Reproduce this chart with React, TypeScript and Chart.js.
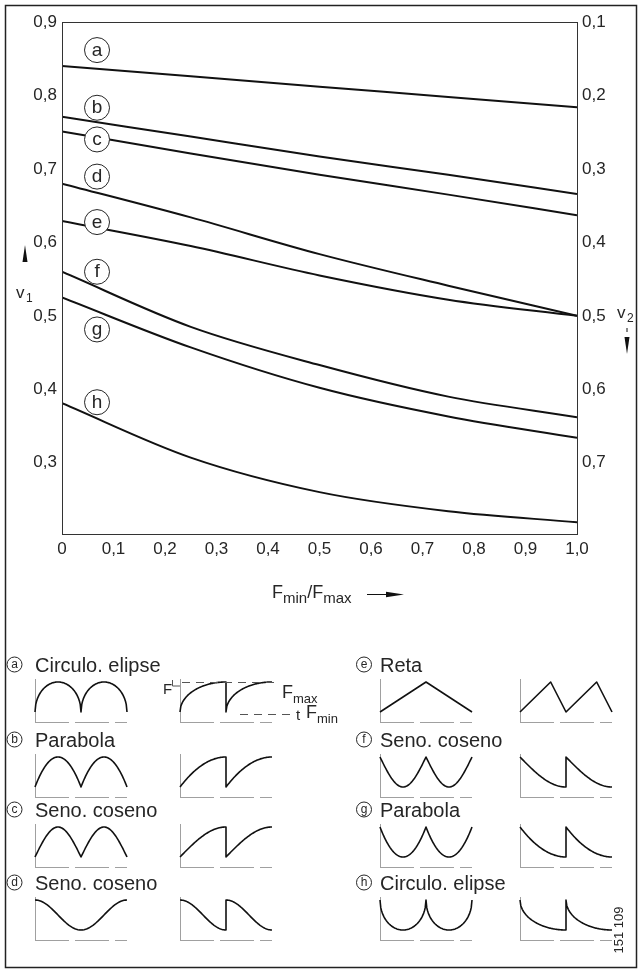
import React, { useEffect, useRef } from 'react';
import { Chart, registerables } from 'chart.js';

Chart.register(...registerables);

// ---------- data ----------
const X_VALUES = [0, 0.25, 0.5, 0.75, 1.0];
const CURVE_LETTERS = ['a', 'b', 'c', 'd', 'e', 'f', 'g', 'h'];
const V1_A = [0.840, 0.826, 0.812, 0.798, 0.784];
const V1_B = [0.771, 0.744, 0.717, 0.692, 0.666];
const V1_C = [0.751, 0.721, 0.692, 0.665, 0.637];
const V1_D = [0.680, 0.634, 0.584, 0.541, 0.500];
const V1_E = [0.629, 0.595, 0.555, 0.522, 0.500];
const V1_F = [0.560, 0.485, 0.433, 0.390, 0.362];
const V1_G = [0.525, 0.457, 0.402, 0.363, 0.334];
const V1_H = [0.381, 0.307, 0.260, 0.234, 0.219];
const SERIES = [V1_A, V1_B, V1_C, V1_D, V1_E, V1_F, V1_G, V1_H];

const X_TICKS = [0, 0.1, 0.2, 0.3, 0.4, 0.5, 0.6, 0.7, 0.8, 0.9, 1.0];
const V1_TICKS = [0.3, 0.4, 0.5, 0.6, 0.7, 0.8, 0.9];
const V2_TICKS = [0.1, 0.2, 0.3, 0.4, 0.5, 0.6, 0.7];
const V1_MIN = 0.203;
const V1_MAX = 0.9;

const LEGEND_LEFT_LETTERS = ['a', 'b', 'c', 'd'];
const LEGEND_LEFT_TEXT = ['Circulo. elipse', 'Parabola', 'Seno. coseno', 'Seno. coseno'];
const LEGEND_RIGHT_LETTERS = ['e', 'f', 'g', 'h'];
const LEGEND_RIGHT_TEXT = ['Reta', 'Seno. coseno', 'Parabola', 'Circulo. elipse'];
const FIGURE_NUMBER = '151 109';

// ---------- styling / layout ----------
const FONT = "'Liberation Sans', Arial, sans-serif";
const INK = '#262626';
const LABEL_DY = [-16, -9, 8, -7, 1, 0, 32, -1];
const ROW_BASELINES = [672, 747, 817, 890];

const fmt = (v: number) => (v === 0 ? '0' : v.toFixed(1).replace('.', ','));

type Shape = (t: number) => number;
const SHAPES: Record<string, { f: Shape; periods: number }> = {
  a1: { f: (t) => Math.sqrt(Math.max(0, 1 - (2 * t - 1) ** 2)), periods: 2 },
  a2: { f: (t) => Math.sqrt(Math.max(0, 1 - (1 - t) ** 2)), periods: 2 },
  b1: { f: (t) => 1 - (2 * t - 1) ** 2, periods: 2 },
  b2: { f: (t) => 1 - (1 - t) ** 2, periods: 2 },
  c1: { f: (t) => Math.sin(Math.PI * t), periods: 2 },
  c2: { f: (t) => Math.sin((Math.PI * t) / 2), periods: 2 },
  d1: { f: (t) => (1 + Math.cos(2 * Math.PI * t)) / 2, periods: 1 },
  d2: { f: (t) => (1 + Math.cos(Math.PI * t)) / 2, periods: 2 },
  e1: { f: (t) => 1 - Math.abs(2 * t - 1), periods: 1 },
  e2: { f: (t) => (t < 2 / 3 ? t * 1.5 : (1 - t) * 3), periods: 2 },
  f1: { f: (t) => 1 - Math.sin(Math.PI * t), periods: 2 },
  f2: { f: (t) => 1 - Math.sin((Math.PI * t) / 2), periods: 2 },
  g1: { f: (t) => (2 * t - 1) ** 2, periods: 2 },
  g2: { f: (t) => (1 - t) ** 2, periods: 2 },
  h1: { f: (t) => 1 - Math.sqrt(Math.max(0, 1 - (2 * t - 1) ** 2)), periods: 2 },
  h2: { f: (t) => 1 - Math.sqrt(Math.max(0, 1 - (1 - t) ** 2)), periods: 2 },
};

function drawIcon(ctx: CanvasRenderingContext2D, key: string, x0: number, top: number, w: number, h: number) {
  const { f, periods } = SHAPES[key];
  const bottom = top + h;
  ctx.save();
  ctx.strokeStyle = '#a0a0a0';
  ctx.lineWidth = 1;
  ctx.beginPath();
  ctx.moveTo(x0 + 0.5, top - 3);
  ctx.lineTo(x0 + 0.5, bottom + 10);
  ctx.stroke();
  ctx.setLineDash([34, 6]);
  ctx.beginPath();
  ctx.moveTo(x0, bottom + 10.5);
  ctx.lineTo(x0 + w, bottom + 10.5);
  ctx.stroke();
  ctx.restore();

  ctx.save();
  ctx.strokeStyle = '#111';
  ctx.lineWidth = 1.6;
  ctx.lineJoin = 'round';
  ctx.beginPath();
  const n = 60;
  const pw = w / periods;
  for (let p = 0; p < periods; p++) {
    for (let k = 0; k <= n; k++) {
      const t = k / n;
      const x = x0 + p * pw + t * pw;
      const y = bottom - h * f(t);
      if (p === 0 && k === 0) ctx.moveTo(x, y);
      else ctx.lineTo(x, y);
    }
  }
  ctx.stroke();
  ctx.restore();
}

function circled(ctx: CanvasRenderingContext2D, letter: string, cx: number, cy: number, r: number, size: number) {
  ctx.save();
  ctx.beginPath();
  ctx.arc(cx, cy, r, 0, Math.PI * 2);
  ctx.fillStyle = '#fff';
  ctx.fill();
  ctx.lineWidth = 1;
  ctx.strokeStyle = INK;
  ctx.stroke();
  ctx.fillStyle = INK;
  ctx.font = `${size}px ${FONT}`;
  ctx.textAlign = 'center';
  ctx.textBaseline = 'middle';
  ctx.fillText(letter, cx, cy + 0.5);
  ctx.restore();
}

function text(ctx: CanvasRenderingContext2D, s: string, x: number, y: number, size: number, align: CanvasTextAlign = 'left') {
  ctx.font = `${size}px ${FONT}`;
  ctx.fillStyle = INK;
  ctx.textAlign = align;
  ctx.textBaseline = 'alphabetic';
  ctx.fillText(s, x, y);
  return ctx.measureText(s).width;
}

const decorPlugin = {
  id: 'decor',
  beforeDraw(chart: any) {
    const ctx = chart.ctx as CanvasRenderingContext2D;
    ctx.save();
    ctx.fillStyle = '#fff';
    ctx.fillRect(0, 0, chart.width, chart.height);
    ctx.restore();
  },
  afterDatasetsDraw(chart: any) {
    const ctx = chart.ctx as CanvasRenderingContext2D;
    const { left, right, top, bottom } = chart.chartArea;
    const xs = chart.scales.x;
    ctx.save();
    ctx.strokeStyle = '#333';
    ctx.lineWidth = 1;
    ctx.strokeRect(Math.round(left) + 0.5, Math.round(top) + 0.5, Math.round(right - left), Math.round(bottom - top));
    ctx.restore();

    const lx = xs.getPixelForValue(0.068);
    CURVE_LETTERS.forEach((L, i) => {
      const meta = chart.getDatasetMeta(i);
      const y0 = meta.data[0].y;
      circled(ctx, L, lx, y0 + LABEL_DY[i], 12.5, 19);
    });
  },
  afterDraw(chart: any) {
    const ctx = chart.ctx as CanvasRenderingContext2D;
    ctx.save();
    ctx.strokeStyle = '#222';
    ctx.lineWidth = 1.5;
    ctx.strokeRect(5.5, 5.5, 631, 962);

    // v1 label + arrow
    ctx.fillStyle = '#111';
    ctx.beginPath();
    ctx.moveTo(25, 245);
    ctx.lineTo(27.5, 262);
    ctx.lineTo(22.5, 262);
    ctx.closePath();
    ctx.fill();
    text(ctx, 'v', 16, 298, 17);
    text(ctx, '1', 26, 302, 12);

    // v2 label + arrow
    text(ctx, 'v', 617, 318, 17);
    text(ctx, '2', 627, 322, 12);
    ctx.fillStyle = '#111';
    ctx.fillRect(626.5, 328, 1, 4);
    ctx.beginPath();
    ctx.moveTo(627, 354);
    ctx.lineTo(629.5, 337);
    ctx.lineTo(624.5, 337);
    ctx.closePath();
    ctx.fill();

    // x axis title
    let x = 272;
    x += text(ctx, 'F', x, 598, 18);
    x += text(ctx, 'min', x, 603, 15);
    x += text(ctx, '/', x, 598, 18);
    x += text(ctx, 'F', x, 598, 18);
    x += text(ctx, 'max', x, 603, 15);
    ctx.strokeStyle = '#111';
    ctx.lineWidth = 1;
    ctx.beginPath();
    ctx.moveTo(367, 594.5);
    ctx.lineTo(392, 594.5);
    ctx.stroke();
    ctx.fillStyle = '#111';
    ctx.beginPath();
    ctx.moveTo(404, 594.5);
    ctx.lineTo(386, 591.8);
    ctx.lineTo(386, 597.2);
    ctx.closePath();
    ctx.fill();

    // legend
    const lefts = [
      { circle: 14.5, txt: 35, icon1: 35, icon2: 180 },
      { circle: 364, txt: 380, icon1: 380, icon2: 520 },
    ];
    const cols = [
      { letters: LEGEND_LEFT_LETTERS, texts: LEGEND_LEFT_TEXT },
      { letters: LEGEND_RIGHT_LETTERS, texts: LEGEND_RIGHT_TEXT },
    ];
    cols.forEach((col, ci) => {
      const g = lefts[ci];
      col.letters.forEach((L, ri) => {
        const base = ROW_BASELINES[ri];
        circled(ctx, L, g.circle, base - 7.5, 7.5, 12);
        text(ctx, col.texts[ri], g.txt, base, 20);
        const top = base + 10;
        drawIcon(ctx, L + '1', g.icon1, top, 92, 30);
        drawIcon(ctx, L + '2', g.icon2, top, 92, 30);
      });
    });

    // annotations for the first F(t) sketch
    text(ctx, 'F', 163, 694, 15);
    ctx.strokeStyle = '#555';
    ctx.lineWidth = 1;
    ctx.beginPath();
    ctx.moveTo(172.5, 680);
    ctx.lineTo(172.5, 686);
    ctx.lineTo(180, 686);
    ctx.stroke();
    ctx.setLineDash([8, 6]);
    ctx.beginPath();
    ctx.moveTo(182, 682.5);
    ctx.lineTo(275, 682.5);
    ctx.stroke();
    ctx.beginPath();
    ctx.moveTo(240, 714.5);
    ctx.lineTo(290, 714.5);
    ctx.stroke();
    ctx.setLineDash([]);
    let ax = 282;
    ax += text(ctx, 'F', ax, 698, 18);
    text(ctx, 'max', ax, 703, 13);
    text(ctx, 't', 296, 720, 15);
    ax = 306;
    ax += text(ctx, 'F', ax, 718, 18);
    text(ctx, 'min', ax, 723, 13);

    // figure number (rotated)
    ctx.save();
    ctx.translate(619, 930);
    ctx.rotate(-Math.PI / 2);
    ctx.font = `13px ${FONT}`;
    ctx.fillStyle = INK;
    ctx.textAlign = 'center';
    ctx.textBaseline = 'middle';
    ctx.fillText(FIGURE_NUMBER, 0, 0);
    ctx.restore();

    ctx.restore();
  },
};

export default function App() {
  const ref = useRef<HTMLCanvasElement>(null);
  useEffect(() => {
    const tickFont = { family: FONT, size: 17 };
    const chart = new Chart(ref.current as HTMLCanvasElement, {
      type: 'line',
      data: {
        datasets: SERIES.map((vals, i) => ({
          label: CURVE_LETTERS[i],
          data: X_VALUES.map((xv, k) => ({ x: xv, y: vals[k] })),
          borderColor: '#111',
          borderWidth: 2,
          pointRadius: 0,
          fill: false,
          cubicInterpolationMode: 'monotone' as const,
          yAxisID: 'y',
        })),
      },
      options: {
        animation: false,
        responsive: false,
        devicePixelRatio: 1,
        layout: { padding: { top: 22, left: 0, right: 0, bottom: 0 } },
        plugins: { legend: { display: false }, tooltip: { enabled: false } },
        scales: {
          x: {
            type: 'linear',
            position: 'bottom',
            min: 0,
            max: 1,
            grid: { display: false, drawTicks: false },
            border: { display: false },
            afterBuildTicks: (s: any) => {
              s.ticks = X_TICKS.map((v) => ({ value: v }));
            },
            afterFit: (s: any) => {
              s.height = 437;
            },
            ticks: { padding: 5, color: INK, font: tickFont, autoSkip: false, maxRotation: 0, callback: (v: any) => fmt(Number(v)) },
          },
          y: {
            type: 'linear',
            position: 'left',
            min: V1_MIN,
            max: V1_MAX,
            grid: { display: false, drawTicks: false },
            border: { display: false },
            afterBuildTicks: (s: any) => {
              s.ticks = V1_TICKS.map((v) => ({ value: v }));
            },
            afterFit: (s: any) => {
              s.width = 62;
            },
            ticks: { padding: 5, color: INK, font: tickFont, callback: (v: any) => fmt(Number(v)) },
          },
          y2: {
            type: 'linear',
            position: 'right',
            reverse: true,
            min: 1 - V1_MAX,
            max: 1 - V1_MIN,
            grid: { display: false, drawTicks: false },
            border: { display: false },
            afterBuildTicks: (s: any) => {
              s.ticks = V2_TICKS.map((v) => ({ value: v }));
            },
            afterFit: (s: any) => {
              s.width = 64;
            },
            ticks: { padding: 5, color: INK, font: tickFont, callback: (v: any) => fmt(Number(v)) },
          },
        },
      },
      plugins: [decorPlugin],
    } as any);
    return () => chart.destroy();
  }, []);
  return (
    <div style={{ position: 'absolute', left: 0, top: 0, width: 641, height: 971, background: '#fff' }}>
      <canvas ref={ref} width={641} height={971} style={{ display: 'block', width: 641, height: 971 }} />
    </div>
  );
}
